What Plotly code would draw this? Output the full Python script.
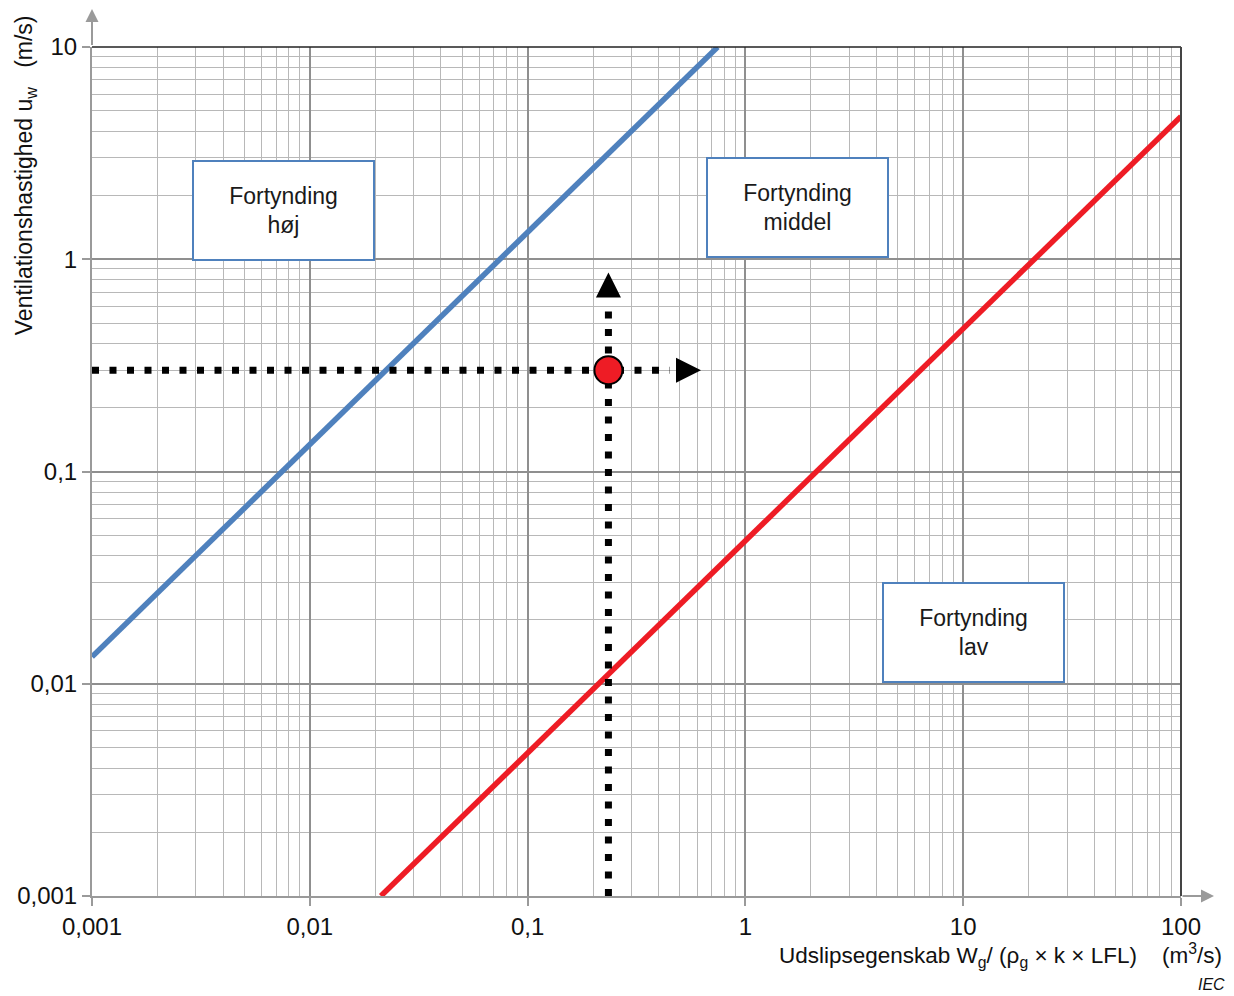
import numpy as np
import plotly.graph_objects as go

# ---------------- data ----------------
x_tick_vals = [0.001, 0.01, 0.1, 1, 10, 100]
x_tick_text = ["0,001", "0,01", "0,1", "1", "10", "100"]
y_tick_vals = [0.001, 0.01, 0.1, 1, 10]
y_tick_text = ["0,001", "0,01", "0,1", "1", "10"]

# high-dilution boundary (blue) and low-dilution boundary (red)
blue_x = [0.001, 0.746]
blue_y = [0.0134, 10]
red_x = [0.0212, 100]
red_y = [0.001, 4.71]

# example operating point and guide lines
point_x = [0.235]
point_y = [0.3]
hguide_x = [0.001, 0.45]
hguide_y = [0.3, 0.3]
vguide_x = [0.235, 0.235]
vguide_y = [0.001, 0.6]
arrow_right_tip = (0.6256, 0.3)
arrow_up_tip = (0.235, 0.866)

box_labels = ["Fortynding<br>høj", "Fortynding<br>middel", "Fortynding<br>lav"]

x_minor = [k * 10.0 ** d for d in range(-3, 2) for k in range(2, 10)]
y_minor = [k * 10.0 ** d for d in range(-3, 1) for k in range(2, 10)]

FONT = "Liberation Sans, Arial, sans-serif"

fig = go.Figure()

fig.add_trace(go.Scatter(x=blue_x, y=blue_y, mode="lines",
                         line=dict(color="#4f81bd", width=5.5), hoverinfo="skip"))
fig.add_trace(go.Scatter(x=red_x, y=red_y, mode="lines",
                         line=dict(color="#ee1c25", width=5.5), hoverinfo="skip"))

fig.add_trace(go.Scatter(x=hguide_x, y=hguide_y, mode="lines",
                         line=dict(color="black", width=7, dash="7px,10.5px"), hoverinfo="skip"))
fig.add_trace(go.Scatter(x=vguide_x, y=vguide_y, mode="lines",
                         line=dict(color="black", width=7, dash="7px,10.5px"), hoverinfo="skip"))
fig.add_trace(go.Scatter(x=point_x, y=point_y, mode="markers",
                         marker=dict(symbol="circle", size=28, color="#ee1c25",
                                     line=dict(color="black", width=2)), hoverinfo="skip"))

axis_common = dict(
    type="log",
    showgrid=True, gridcolor="#8f8f8f", gridwidth=1.5,
    showline=True, linecolor="#9a9a9a", linewidth=2,
    ticks="outside", ticklen=8, tickcolor="#9a9a9a", tickwidth=1.5,
    tickfont=dict(family=FONT, size=24, color="#111111"),
    zeroline=False,
)

fig.update_xaxes(range=[-3, 2], tickvals=x_tick_vals, ticktext=x_tick_text,
                 minor=dict(tickvals=x_minor, showgrid=True, gridcolor="#b8b8b8",
                            gridwidth=1.2, ticklen=0),
                 **axis_common)
fig.update_yaxes(range=[-3, 1], tickvals=y_tick_vals, ticktext=y_tick_text,
                 minor=dict(tickvals=y_minor, showgrid=True, gridcolor="#b8b8b8",
                            gridwidth=1.2, ticklen=0),
                 **axis_common)

# borders top / right
fig.add_shape(type="line", xref="paper", yref="paper", x0=0, x1=1, y0=1, y1=1,
              line=dict(color="#222222", width=1.5))
fig.add_shape(type="line", xref="paper", yref="paper", x0=1, x1=1, y0=0, y1=1,
              line=dict(color="#444444", width=2))

annotations = []
# axis arrows
annotations.append(dict(xref="paper", yref="paper", x=0, y=1.05, ax=0, ay=42,
                        showarrow=True, arrowhead=2, arrowsize=1.3, arrowwidth=2,
                        arrowcolor="#9a9a9a", text=""))
annotations.append(dict(xref="paper", yref="paper", x=1.0303, y=0, ax=-33, ay=0,
                        showarrow=True, arrowhead=2, arrowsize=1.3, arrowwidth=2,
                        arrowcolor="#9a9a9a", text=""))

# guide-line arrowheads (log axes: annotation positions in log10 units)
annotations.append(dict(x=np.log10(arrow_right_tip[0]), y=np.log10(arrow_right_tip[1]),
                        ax=-12, ay=0, showarrow=True, arrowhead=2, arrowsize=2,
                        arrowwidth=2.5, arrowcolor="black", text=""))
annotations.append(dict(x=np.log10(arrow_up_tip[0]), y=np.log10(arrow_up_tip[1]),
                        ax=0, ay=12, showarrow=True, arrowhead=2, arrowsize=2,
                        arrowwidth=2.5, arrowcolor="black", text=""))

# region boxes
box_pos = [(0.1758, 0.8074), (0.6478, 0.811), (0.8099, 0.3098)]
for lbl, (bx, by) in zip(box_labels, box_pos):
    annotations.append(dict(xref="paper", yref="paper", x=bx, y=by,
                            xanchor="center", yanchor="middle",
                            text=lbl, showarrow=False, align="center", valign="middle",
                            width=179, height=97, borderpad=0,
                            bordercolor="#4f81bd", borderwidth=2, bgcolor="white",
                            font=dict(family=FONT, size=23, color="#1a1a1a")))

# axis titles
annotations.append(dict(xref="paper", yref="paper", x=-0.0615, y=0.849,
                        xanchor="center", yanchor="middle", textangle=-90,
                        text="Ventilationshastighed u<sub>w</sub>\u00a0\u00a0 (m/s)",
                        showarrow=False, font=dict(family=FONT, size=23, color="#111111")))
annotations.append(dict(xref="paper", yref="paper", x=1.0395, y=-0.0695,
                        xanchor="right", yanchor="middle",
                        text="Udslipsegenskab W<sub>g</sub>/ (ρ<sub>g</sub> × k × LFL)\u00a0\u00a0\u00a0 (m<sup>3</sup>/s)",
                        showarrow=False, font=dict(family=FONT, size=22.5, color="#111111")))
annotations.append(dict(xref="paper", yref="paper", x=1.0425, y=-0.1048,
                        xanchor="right", yanchor="middle", text="<i>IEC</i>",
                        showarrow=False, font=dict(family=FONT, size=16, color="#111111")))

fig.update_layout(
    width=1226, height=988,
    margin=dict(l=84, r=53, t=39, b=100, autoexpand=False),
    plot_bgcolor="white", paper_bgcolor="white",
    showlegend=False,
    annotations=annotations,
    font=dict(family=FONT),
)

fig.write_html("out.html")
